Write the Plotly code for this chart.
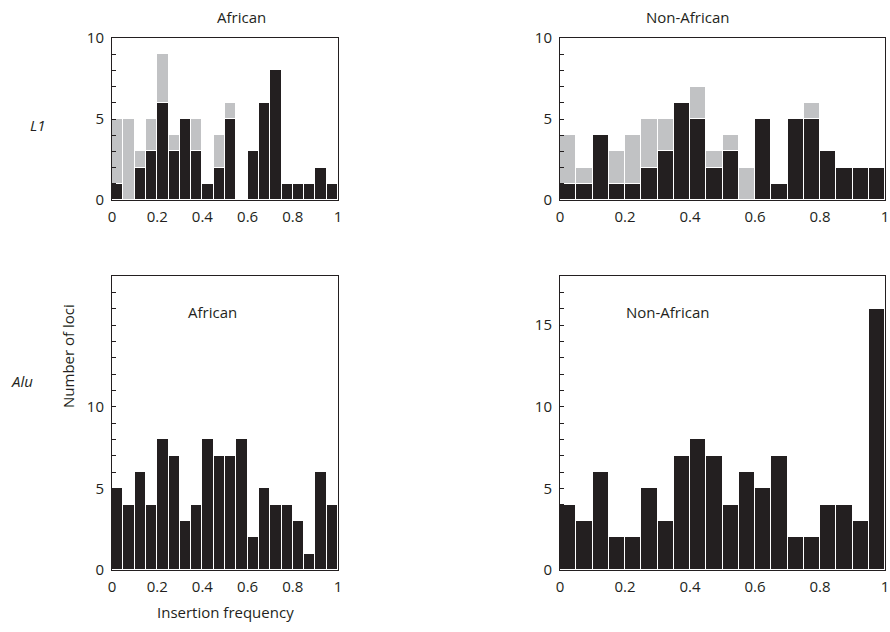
import plotly.graph_objects as go

bin_width = 0.05
bin_centers = [round(0.025 + 0.05 * i, 3) for i in range(20)]

# L1, African: black = first part, total = black + grey
l1_afr_black = [1, 0, 2, 3, 6, 3, 5, 3, 1, 2, 5, 0, 3, 6, 8, 1, 1, 1, 2, 1]
l1_afr_total = [5, 5, 3, 5, 9, 4, 5, 5, 1, 4, 6, 0, 3, 6, 8, 1, 1, 1, 2, 1]
# L1, Non-African
l1_non_black = [1, 1, 4, 1, 1, 2, 3, 6, 5, 2, 3, 0, 5, 1, 5, 5, 3, 2, 2, 2]
l1_non_total = [4, 2, 4, 3, 4, 5, 5, 6, 7, 3, 4, 2, 5, 1, 5, 6, 3, 2, 2, 2]
# Alu
alu_afr = [5, 4, 6, 4, 8, 7, 3, 4, 8, 7, 7, 8, 2, 5, 4, 4, 3, 1, 6, 4]
alu_non = [4, 3, 6, 2, 2, 5, 3, 7, 8, 7, 4, 6, 5, 7, 2, 2, 4, 4, 3, 16]

x_tickvals = [0, 0.2, 0.4, 0.6, 0.8, 1]
x_ticktext = ["0", "0.2", "0.4", "0.6", "0.8", "1"]

BLACK = "#231f20"
GREY = "#c1c2c4"
FONT = "Open Sans"

W, H = 890, 632

def px(x):
    return x / W

def py(y):
    return 1 - y / H

fig = go.Figure()

def bars(y, color, xa, ya):
    fig.add_trace(go.Bar(
        x=bin_centers, y=y, width=bin_width,
        marker=dict(color=color, line=dict(color="white", width=1)),
        xaxis=xa, yaxis=ya, showlegend=False, hoverinfo="skip",
    ))

bars(l1_afr_black, BLACK, "x", "y")
bars([t - b for t, b in zip(l1_afr_total, l1_afr_black)], GREY, "x", "y")
bars(l1_non_black, BLACK, "x2", "y2")
bars([t - b for t, b in zip(l1_non_total, l1_non_black)], GREY, "x2", "y2")
bars(alu_afr, BLACK, "x3", "y3")
bars(alu_non, BLACK, "x4", "y4")

xl = [px(112), px(338)]
xr = [px(560), px(885)]
yt = [py(200), py(38)]
yb = [py(570), py(276)]

def xaxis(dom, anchor):
    return dict(domain=dom, anchor=anchor, range=[0, 1], tickvals=x_tickvals,
                ticktext=x_ticktext, showline=True, linecolor=BLACK, linewidth=1,
                mirror=True, showgrid=False, zeroline=False, ticks="",
                automargin=False, ticklabeloverflow="allow", ticklabelstandoff=3,
                tickfont=dict(family=FONT, size=15, color=BLACK))

def yaxis(dom, anchor, top, vals):
    return dict(domain=dom, anchor=anchor, range=[0, top], tickvals=vals,
                showline=True, linecolor=BLACK, linewidth=1, mirror=True,
                showgrid=False, zeroline=False, ticks="inside", ticklen=4,
                tickcolor=BLACK, tickwidth=1, automargin=False,
                ticklabeloverflow="allow", ticklabelstandoff=4,
                minor=dict(dtick=1, ticks="inside", ticklen=4, tickcolor=BLACK, tickwidth=1),
                tickfont=dict(family=FONT, size=15, color=BLACK))

fig.update_layout(
    template="none",
    width=W, height=H,
    margin=dict(l=0, r=0, t=0, b=0),
    paper_bgcolor="white", plot_bgcolor="white",
    barmode="stack", bargap=0,
    xaxis=xaxis(xl, "y"), yaxis=yaxis(yt, "x", 10, [0, 5, 10]),
    xaxis2=xaxis(xr, "y2"), yaxis2=yaxis(yt, "x2", 10, [0, 5, 10]),
    xaxis3=xaxis(xl, "y3"), yaxis3=yaxis(yb, "x3", 18, [0, 5, 10]),
    xaxis4=xaxis(xr, "y4"), yaxis4=yaxis(yb, "x4", 18, [0, 5, 10, 15]),
)

def txt(x, y, s, size=15, italic=False, angle=0):
    fig.add_annotation(x=px(x), y=py(y), xref="paper", yref="paper",
                       text=f"<i>{s}</i>" if italic else s, showarrow=False,
                       textangle=angle, xanchor="center", yanchor="middle",
                       font=dict(family=FONT, size=size, color=BLACK))

txt(241, 17, "African")
txt(688, 17, "Non-African")
txt(212, 312, "African")
txt(668, 312, "Non-African")
txt(37, 125, "L1", italic=True)
txt(22, 381, "Alu", italic=True)
txt(68, 356, "Number of loci", angle=-90)
txt(225, 612, "Insertion frequency")

fig.write_html(
    "out.html",
    config={"displayModeBar": False},
    post_script="document.body.style.margin='0px';document.body.style.overflow='hidden';",
)
